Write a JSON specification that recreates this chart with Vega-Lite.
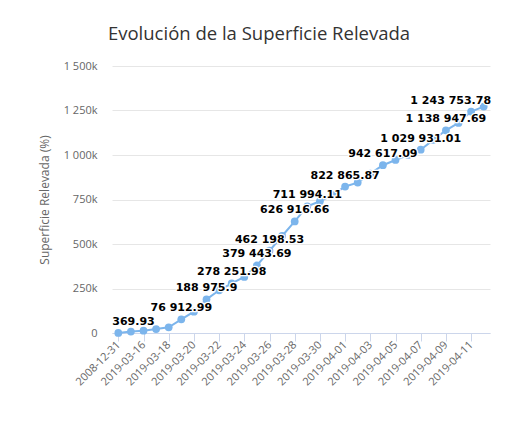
{
  "$schema": "https://vega.github.io/schema/vega-lite/v6.json",
  "autosize": "none",
  "width": 378,
  "height": 267,
  "padding": {"left": 112, "top": 66, "right": 28, "bottom": 92},
  "background": "white",
  "config": {"view": {"stroke": null}},
  "title": {"text": "Evolución de la Superficie Relevada", "font": "Open Sans", "fontSize": 18.5, "fontWeight": "normal", "color": "#333333", "anchor": "middle", "dx": -42, "offset": 17},
  "data": {"values": [
    {"date": "2008-12-31", "value": 369.93, "label": "369.93"},
    {"date": "2019-03-15", "value": 8000},
    {"date": "2019-03-16", "value": 13000},
    {"date": "2019-03-17", "value": 22000},
    {"date": "2019-03-18", "value": 32000},
    {"date": "2019-03-19", "value": 76912.99, "label": "76 912.99"},
    {"date": "2019-03-20", "value": 120000},
    {"date": "2019-03-21", "value": 188975.9, "label": "188 975.9"},
    {"date": "2019-03-22", "value": 240000},
    {"date": "2019-03-23", "value": 278251.98, "label": "278 251.98"},
    {"date": "2019-03-24", "value": 315000},
    {"date": "2019-03-25", "value": 379443.69, "label": "379 443.69"},
    {"date": "2019-03-26", "value": 462198.53, "label": "462 198.53"},
    {"date": "2019-03-27", "value": 545000},
    {"date": "2019-03-28", "value": 626916.66, "label": "626 916.66"},
    {"date": "2019-03-29", "value": 711994.11, "label": "711 994.11"},
    {"date": "2019-03-30", "value": 740000},
    {"date": "2019-03-31", "value": 775000},
    {"date": "2019-04-01", "value": 822865.87, "label": "822 865.87"},
    {"date": "2019-04-02", "value": 845000},
    {"date": "2019-04-03", "value": 895000},
    {"date": "2019-04-04", "value": 942617.09, "label": "942 617.09"},
    {"date": "2019-04-05", "value": 972000},
    {"date": "2019-04-06", "value": 1000000},
    {"date": "2019-04-07", "value": 1029931.01, "label": "1 029 931.01"},
    {"date": "2019-04-08", "value": 1085000},
    {"date": "2019-04-09", "value": 1138947.69, "label": "1 138 947.69"},
    {"date": "2019-04-10", "value": 1180000},
    {"date": "2019-04-11", "value": 1243753.78, "label": "1 243 753.78"},
    {"date": "2019-04-12", "value": 1272000}
  ]},
  "encoding": {
    "x": {"field": "date", "type": "ordinal", "sort": null,
      "scale": {"type": "point", "padding": 0.5},
      "axis": {"title": null,
        "values": ["2008-12-31","2019-03-16","2019-03-18","2019-03-20","2019-03-22","2019-03-24","2019-03-26","2019-03-28","2019-03-30","2019-04-01","2019-04-03","2019-04-05","2019-04-07","2019-04-09","2019-04-11"],
        "labelAngle": -45, "labelAlign": "right", "labelBaseline": "middle",
        "labelFont": "Open Sans", "labelFontSize": 11, "labelColor": "#666666",
        "domainColor": "#ccd6eb", "tickColor": "#ccd6eb", "tickSize": 8, "labelPadding": 2, "grid": false}},
    "y": {"field": "value", "type": "quantitative",
      "scale": {"domain": [0, 1500000], "nice": false},
      "axis": {"title": "Superficie Relevada (%)", "titleFont": "Open Sans", "titleFontSize": 12, "titleFontWeight": "normal", "titleColor": "#666666",
        "values": [0, 250000, 500000, 750000, 1000000, 1250000, 1500000],
        "labelExpr": "datum.value == 0 ? '0' : replace(format(datum.value/1000, ','), ',', ' ') + 'k'",
        "labelFont": "Open Sans", "labelFontSize": 11, "labelColor": "#666666",
        "domain": false, "ticks": false, "gridColor": "#e6e6e6", "labelPadding": 15, "titlePadding": 12}}
  },
  "layer": [
    {"mark": {"type": "line", "color": "#7cb5ec", "strokeWidth": 2}},
    {"mark": {"type": "point", "filled": true, "size": 60, "color": "#7cb5ec", "opacity": 1}},
    {"transform": [{"filter": "datum.label"}],
     "mark": {"type": "text", "font": "DejaVu Sans", "fontSize": 11, "fontWeight": "bold", "baseline": "alphabetic", "dy": -8,
       "stroke": "white", "strokeWidth": 2.5, "strokeJoin": "round", "color": "white",
       "align": {"expr": "datum.date === '2008-12-31' ? 'left' : datum.date === '2019-04-11' ? 'right' : 'center'"},
       "dx": {"expr": "datum.date === '2008-12-31' ? -6 : datum.date === '2019-04-11' ? 20 : 0"}},
     "encoding": {"text": {"field": "label"}}},
    {"transform": [{"filter": "datum.label"}],
     "mark": {"type": "text", "font": "DejaVu Sans", "fontSize": 11, "fontWeight": "bold", "baseline": "alphabetic", "dy": -8, "color": "#000000",
       "align": {"expr": "datum.date === '2008-12-31' ? 'left' : datum.date === '2019-04-11' ? 'right' : 'center'"},
       "dx": {"expr": "datum.date === '2008-12-31' ? -6 : datum.date === '2019-04-11' ? 20 : 0"}},
     "encoding": {"text": {"field": "label"}}}
  ]
}
